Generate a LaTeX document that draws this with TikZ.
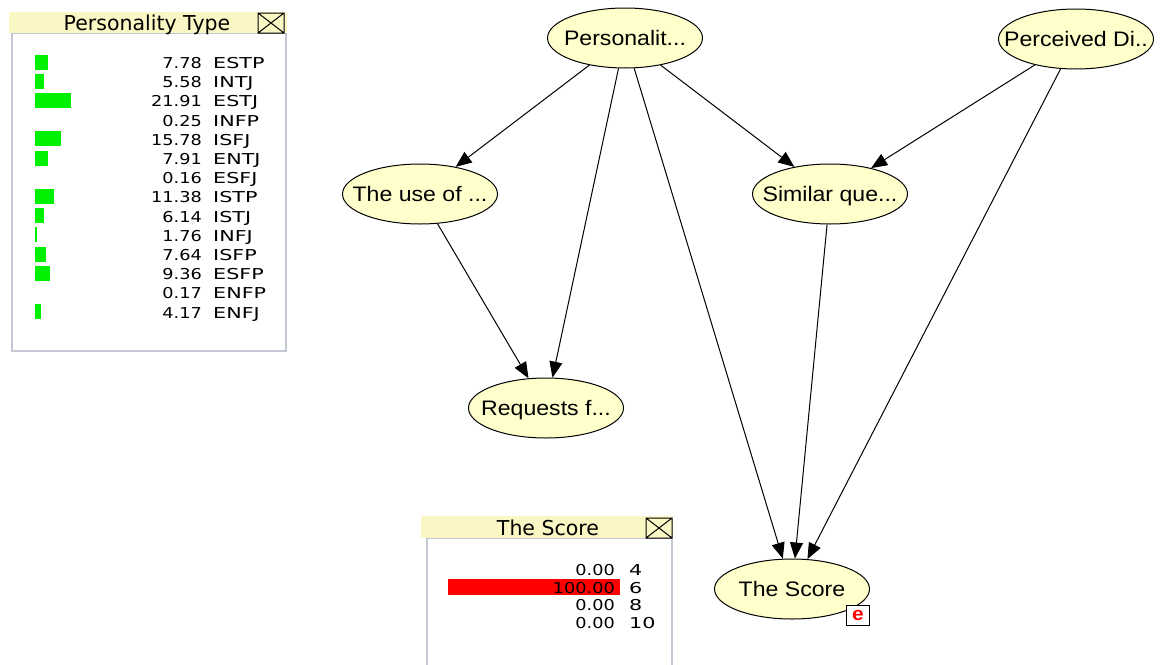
\documentclass[tikz,border=0pt]{standalone}
\usepackage{fontspec}
\usetikzlibrary{shapes.geometric,arrows.meta}
\newfontfamily\nodefont[FakeStretch=1.1]{Liberation Sans}
\newfontfamily\monfont[FakeStretch=1.18]{DejaVu Sans}
\newfontfamily\labfont[FakeStretch=1.38]{DejaVu Sans}
\newfontfamily\titlefont{DejaVu Sans}
\definecolor{nodefill}{RGB}{255,255,204}
\definecolor{titlebar}{RGB}{250,247,196}
\definecolor{framegray}{RGB}{196,200,212}
\definecolor{probgreen}{RGB}{0,240,0}
\definecolor{probred}{RGB}{255,0,0}
% zero-width box so long labels never widen the ellipse
\newcommand\fixlab[1]{\makebox[0pt][c]{#1}}
\tikzset{
  bn/.style={ellipse, draw=black, line width=1pt, fill=nodefill,
    minimum width=155pt, minimum height=60pt, inner sep=0pt,
    text height=15pt, text depth=0pt,
    font=\nodefont\fontsize{21}{24}\selectfont},
  edge/.style={line width=1pt, -{Triangle[length=16pt,width=13pt]}},
  wintitle/.style={font=\titlefont\fontsize{20.5}{24}\selectfont, inner sep=0pt},
  rowtext/.style={font=\monfont\fontsize{15}{18}\selectfont, inner sep=0pt},
  rowlab/.style={font=\labfont\fontsize{15}{18}\selectfont, inner sep=0pt},
  closebox/.style={draw=black, line width=1pt},
  winframe/.style={draw=framegray, line width=2pt, fill=white},
}
\begin{document}
\begin{tikzpicture}[x=1pt,y=-1pt]
\useasboundingbox (0,0) rectangle (1164,664);

% ---------- network ----------
\node[bn] (pers) at (625,38)  {\fixlab{Personalit...}};
\node[bn] (perc) at (1076,39) {\fixlab{Perceived Di..}};
\node[bn] (use)  at (420,194) {\fixlab{The use of ...}};
\node[bn] (sim)  at (830,194) {\fixlab{Similar que...}};
\node[bn] (req)  at (546,408) {\fixlab{Requests f...}};
\node[bn] (score) at (792,589) {\fixlab{The Score}};
\node[draw=black, line width=1pt, fill=white, minimum width=23pt, minimum height=20pt,
      inner sep=0pt, text=probred, font=\nodefont\bfseries\fontsize{19}{20}\selectfont]
      (ev) at (858,615) {e};

\draw[edge] (pers) -- (use);
\draw[edge] (pers) -- (req);
\draw[edge] (pers) -- (score);
\draw[edge] (pers) -- (sim);
\draw[edge] (perc) -- (sim);
\draw[edge] (perc) -- (score);
\draw[edge] (use) -- (req);
\draw[edge] (sim) -- (score);

% ---------- Personality Type monitor ----------
\draw[winframe] (12,33) rectangle (286,351);
\fill[titlebar] (9,12) rectangle (287,33);
\node[wintitle, anchor=base] (pttitle) at (147,30) {Personality Type};
\draw[closebox] (258,13) rectangle (284,33) (258,13) -- (284,33) (284,13) -- (258,33);
\foreach \v/\s/\w [count=\i from 0] in {7.78/ESTP/13, 5.58/INTJ/9, 21.91/ESTJ/36,
    0.25/INFP/0, 15.78/ISFJ/26, 7.91/ENTJ/13, 0.16/ESFJ/0, 11.38/ISTP/19,
    6.14/ISTJ/9, 1.76/INFJ/2, 7.64/ISFP/11, 9.36/ESFP/15, 0.17/ENFP/0, 4.17/ENFJ/6} {
  \pgfmathsetmacro\ry{63+19.2*\i}
  \ifnum\w>0 \fill[probgreen] (35,\ry-8.5) rectangle ++(\w,15); \fi
  \node[rowtext, anchor=base east] (ptv\i) at (202,\ry+5.5) {\v};
  \node[rowlab, anchor=base west] (pts\i) at (213,\ry+5.5) {\s};
}

% ---------- The Score monitor ----------
\draw[winframe] (427,538) rectangle (672,670);
\fill[titlebar] (421,516) rectangle (673,538);
\node[wintitle, anchor=base] (sctitle) at (548,535) {The Score};
\draw[closebox] (646,518) rectangle (672,538) (646,518) -- (672,538) (672,518) -- (646,538);
\fill[probred] (448,579) rectangle (620,595);
\foreach \v/\s [count=\i from 0] in {0.00/4, 100.00/6, 0.00/8, 0.00/10} {
  \pgfmathsetmacro\ry{570+17.7*\i}
  \node[rowtext, anchor=base east] (scv\i) at (615,\ry+5.5) {\v};
  \node[rowlab, anchor=base west] (scs\i) at (629,\ry+5.5) {\s};
}
\end{tikzpicture}
\end{document}
